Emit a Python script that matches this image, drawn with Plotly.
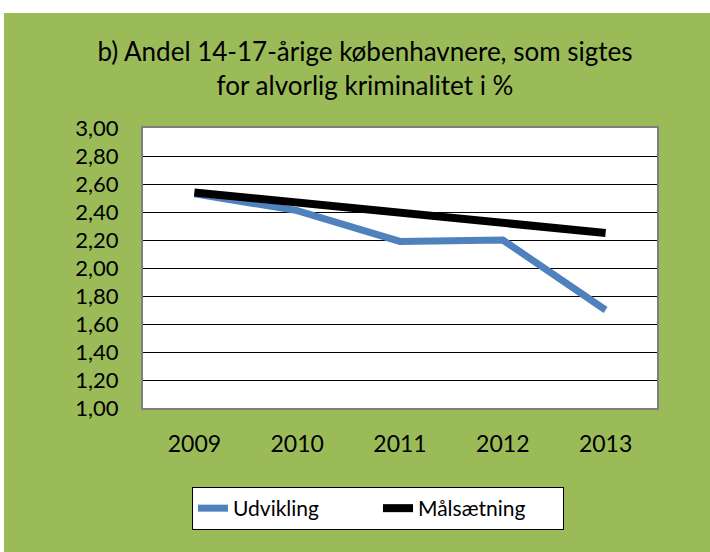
import plotly.graph_objects as go

years = ["2009", "2010", "2011", "2012", "2013"]
udvikling = [2.53, 2.41, 2.19, 2.20, 1.70]
maalsaetning = [2.54, 2.47, 2.40, 2.32, 2.25]
y_ticks = [1.0, 1.2, 1.4, 1.6, 1.8, 2.0, 2.2, 2.4, 2.6, 2.8, 3.0]

GREEN = "#9BBB59"
BLUE = "#4F81BD"
FONT = "Lato"

fig = go.Figure()
fig.add_trace(go.Scatter(x=years, y=udvikling, mode="lines", name="Udvikling",
                         line=dict(color=BLUE, width=7)))
fig.add_trace(go.Scatter(x=years, y=maalsaetning, mode="lines", name="Målsætning",
                         line=dict(color="black", width=8)))

W, H = 710, 552
ml, mr, mt, mb = 143, 53, 128, 144
pw, ph = W - ml - mr, H - mt - mb

def px_x(x):
    return (x - ml) / pw

def px_y(y):
    return (H - mb - y) / ph

fig.update_layout(
    width=W, height=H,
    margin=dict(l=ml, r=mr, t=mt, b=mb, pad=0),
    paper_bgcolor=GREEN,
    plot_bgcolor="white",
    separators=", ",
    font=dict(family=FONT, color="black", size=20),
    title=dict(text="b) Andel 14-17-årige københavnere, som sigtes<br>for alvorlig kriminalitet i %",
               x=px_x(365), xref="paper", xanchor="center",
               y=1 - 61 / H, yref="container", yanchor="top",
               font=dict(family=FONT, size=26, color="black")),
    showlegend=True,
    legend=dict(orientation="h", x=px_x(378), xanchor="center", y=px_y(487), yanchor="top",
                bgcolor="white", bordercolor="black", borderwidth=1,
                font=dict(family=FONT, size=21, color="black"),
                entrywidth=140, tracegroupgap=0),
    xaxis=dict(type="category", showgrid=False, ticks="outside", ticklen=14,
               tickcolor="rgba(0,0,0,0)", tickfont=dict(size=23),
               showline=True, linecolor="#7f7f7f", linewidth=2, mirror=True,
               range=[-0.5, 4.5]),
    yaxis=dict(range=[1.0, 3.0], tickvals=y_ticks, tickformat=".2f",
               showgrid=True, gridcolor="black", gridwidth=1,
               ticks="outside", ticklen=18, tickcolor="rgba(0,0,0,0)",
               tickfont=dict(size=22),
               showline=True, linecolor="#7f7f7f", linewidth=2, mirror=True,
               zeroline=False),
    shapes=[
        dict(type="rect", xref="paper", yref="paper", layer="below",
             x0=px_x(-5), x1=px_x(W + 5), y0=px_y(13), y1=px_y(-5),
             fillcolor="white", line=dict(width=0)),
        dict(type="rect", xref="paper", yref="paper", layer="below",
             x0=px_x(-5), x1=px_x(4), y0=px_y(H + 5), y1=px_y(-5),
             fillcolor="white", line=dict(width=0)),
    ],
)

fig.write_html("out.html", config={"displayModeBar": False},
               post_script="document.body.style.margin='0';"
                           "document.body.style.overflow='hidden';"
                           "document.documentElement.style.background='" + GREEN + "';")
